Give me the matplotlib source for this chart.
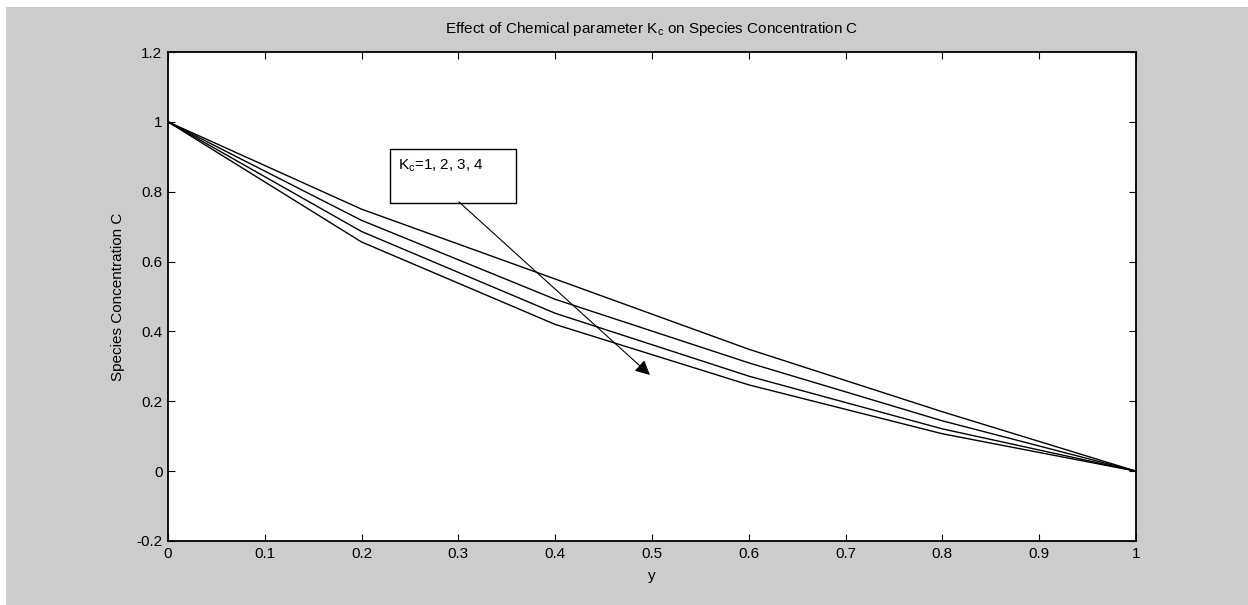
import numpy as np
import matplotlib
matplotlib.use("Agg")
import matplotlib.pyplot as plt
from matplotlib.patches import Rectangle

plt.rcParams['font.family'] = ['Liberation Sans', 'DejaVu Sans']

y_pos = [0.0, 0.2, 0.4, 0.6, 0.8, 1.0]
c_kc1 = [1.0, 0.750, 0.550, 0.349, 0.170, 0.0]
c_kc2 = [1.0, 0.718, 0.492, 0.310, 0.144, 0.0]
c_kc3 = [1.0, 0.686, 0.452, 0.272, 0.121, 0.0]
c_kc4 = [1.0, 0.656, 0.420, 0.247, 0.107, 0.0]
curves = [c_kc1, c_kc2, c_kc3, c_kc4]

xticks = np.arange(0, 1.01, 0.1)
yticks = np.arange(-0.2, 1.21, 0.2)

fig = plt.figure(figsize=(12.48, 6.05), dpi=100)
fig.patch.set_facecolor('white')
fig.patches.append(Rectangle((6 / 1248, 0), 1, 1 - 7 / 605, transform=fig.transFigure,
                             facecolor='#cccccc', edgecolor='none', zorder=-10))

ax = fig.add_axes([168 / 1248, 64 / 605, 968 / 1248, 489 / 605])
ax.set_facecolor('white')

for c in curves:
    ax.plot(y_pos, c, color='black', linewidth=1.0)

ax.set_xlim(0, 1)
ax.set_ylim(-0.2, 1.2)
ax.set_xticks(xticks)
ax.set_yticks(yticks)
ax.set_xticklabels(['0', '0.1', '0.2', '0.3', '0.4', '0.5', '0.6', '0.7', '0.8', '0.9', '1'])
ax.set_yticklabels(['-0.2', '0', '0.2', '0.4', '0.6', '0.8', '1', '1.2'])
ax.tick_params(direction='in', length=5, width=0.8, top=True, right=True,
               labelsize=11, pad=4)
for s in ax.spines.values():
    s.set_linewidth(1.3)

ax.set_title(r'Effect of Chemical parameter K$_\mathregular{c}$ on Species Concentration C',
             fontsize=11, pad=14)
ax.set_xlabel('y', fontsize=11, labelpad=6)
ax.set_ylabel('Species Concentration C', fontsize=11, labelpad=8)

# annotation box
ax.add_patch(Rectangle((0.229, 0.768), 0.131, 0.154, facecolor='white',
                       edgecolor='black', linewidth=1.0, zorder=3))
ax.text(0.238, 0.876, r'K$_\mathregular{c}$=1, 2, 3, 4', fontsize=11, va='center',
        ha='left', zorder=4)
ax.annotate('', xy=(0.5, 0.27), xytext=(0.2985, 0.776),
            arrowprops=dict(arrowstyle='-|>', color='black', lw=0.8,
                            mutation_scale=22), zorder=5)

fig.savefig('out.png', dpi=100, facecolor=fig.get_facecolor())
